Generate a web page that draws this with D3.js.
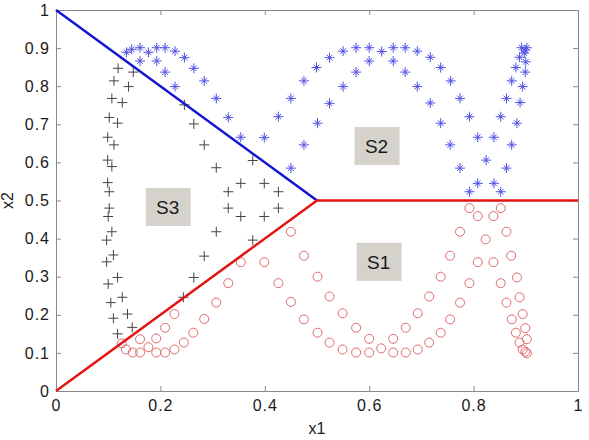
<!DOCTYPE html>
<html>
<head>
<meta charset="utf-8" />
<title>x1 x2 regions</title>
<script src="https://cdn.jsdelivr.net/npm/d3@7"></script>
<style>
  body { margin: 0; background: #fff; }
  text { font-family: "Liberation Sans", Arial, sans-serif; fill: #1a1a1a; }
</style>
</head>
<body>
<div id="chart"></div>
<script>
// points: [x1, x2]
var plusPts = [
  [0.119,0.847],[0.148,0.837],[0.111,0.814],[0.139,0.799],[0.107,0.768],[0.127,0.757],
  [0.102,0.718],[0.118,0.703],[0.099,0.666],[0.111,0.646],[0.099,0.606],[0.107,0.589],
  [0.099,0.547],[0.102,0.523],[0.102,0.480],[0.100,0.458],[0.107,0.418],[0.097,0.396],
  [0.110,0.357],[0.097,0.339],[0.118,0.298],[0.100,0.281],[0.127,0.246],[0.105,0.232],
  [0.137,0.202],[0.110,0.191],[0.146,0.167],[0.118,0.150],
  [0.246,0.751],[0.264,0.701],[0.284,0.646],[0.307,0.586],[0.330,0.523],[0.354,0.545],
  [0.377,0.605],[0.399,0.545],[0.426,0.523],[0.426,0.480],[0.330,0.480],[0.354,0.458],
  [0.399,0.458],[0.307,0.418],[0.377,0.396],[0.284,0.354],[0.264,0.298],[0.244,0.246]
];
var starPts = [
  [0.135,0.889],[0.145,0.897],[0.161,0.901],[0.177,0.889],[0.193,0.901],[0.209,0.901],
  [0.228,0.892],[0.246,0.875],[0.264,0.847],[0.284,0.814],[0.307,0.768],[0.330,0.718],
  [0.354,0.666],[0.161,0.866],[0.193,0.866],[0.209,0.837],[0.228,0.799],
  [0.399,0.665],[0.426,0.720],[0.450,0.768],[0.475,0.814],[0.499,0.849],[0.524,0.875],
  [0.550,0.892],[0.575,0.901],[0.600,0.901],[0.624,0.891],[0.646,0.901],[0.669,0.901],
  [0.692,0.892],[0.717,0.876],[0.737,0.849],[0.756,0.814],[0.774,0.768],[0.792,0.720],
  [0.808,0.666],[0.824,0.606],[0.839,0.545],[0.852,0.523],
  [0.450,0.585],[0.475,0.646],[0.501,0.703],[0.524,0.755],[0.550,0.799],[0.575,0.837],
  [0.600,0.866],[0.646,0.866],[0.669,0.837],[0.692,0.799],[0.717,0.756],[0.737,0.703],
  [0.755,0.646],[0.774,0.585],[0.792,0.523],[0.808,0.545],
  [0.839,0.666],[0.863,0.585],[0.873,0.646],[0.883,0.703],[0.889,0.757],[0.894,0.799],
  [0.899,0.837],[0.900,0.864],[0.899,0.895],[0.892,0.901],[0.902,0.901],[0.881,0.849],
  [0.873,0.814],[0.863,0.768],[0.852,0.720],[0.888,0.876],[0.897,0.887]
];
var circlePts = [
  [0.126,0.125],[0.134,0.109],[0.147,0.101],[0.161,0.101],[0.161,0.136],[0.177,0.115],
  [0.192,0.101],[0.192,0.138],[0.209,0.101],[0.209,0.166],[0.227,0.202],[0.227,0.109],
  [0.245,0.127],[0.263,0.153],[0.284,0.189],[0.307,0.232],[0.330,0.283],[0.354,0.338],
  [0.399,0.338],[0.426,0.283],[0.450,0.418],[0.475,0.355],[0.501,0.300],[0.524,0.248],
  [0.549,0.204],[0.575,0.166],[0.600,0.137],[0.623,0.112],[0.646,0.137],[0.670,0.166],
  [0.693,0.204],[0.715,0.248],[0.737,0.300],[0.755,0.355],[0.774,0.418],[0.792,0.480],
  [0.450,0.234],[0.475,0.188],[0.501,0.153],[0.524,0.127],[0.549,0.109],[0.575,0.101],
  [0.600,0.101],[0.646,0.101],[0.670,0.101],[0.693,0.109],[0.715,0.127],[0.737,0.153],
  [0.755,0.188],[0.774,0.232],[0.792,0.283],[0.808,0.338],[0.823,0.398],[0.808,0.459],
  [0.838,0.459],[0.852,0.480],[0.838,0.338],[0.852,0.283],[0.863,0.418],[0.872,0.355],
  [0.883,0.298],[0.863,0.232],[0.888,0.246],[0.873,0.188],[0.894,0.202],[0.881,0.153],
  [0.899,0.165],[0.888,0.127],[0.902,0.136],[0.894,0.109],[0.899,0.103],[0.902,0.099]
];
// boundary lines
var blueLine = [[0, 1], [0.5, 0.5]];
var redLine = [[0, 0], [0.5, 0.5], [1, 0.5]];
// region labels: [text, x1 centre, x2 centre]
var regionLabels = [["S1", 0.618, 0.339], ["S2", 0.614, 0.643], ["S3", 0.214, 0.483]];
var xTicks = [0, 0.2, 0.4, 0.6, 0.8, 1];
var yTicks = [0, 0.1, 0.2, 0.3, 0.4, 0.5, 0.6, 0.7, 0.8, 0.9, 1];

var W = 589, H = 440;
var margin = {top: 10, right: 11, bottom: 49, left: 56};
var width = W - margin.left - margin.right,
    height = H - margin.top - margin.bottom;

var x = d3.scaleLinear().domain([0, 1]).range([0, width]);
var y = d3.scaleLinear().domain([0, 1]).range([height, 0]);

var svg = d3.select("#chart").append("svg")
    .attr("width", W)
    .attr("height", H)
  .append("g")
    .attr("transform", "translate(" + margin.left + "," + margin.top + ")");

var fmt = function (d) { return d === 0 || d === 1 ? String(d) : d3.format(".1f")(d); };

function styleAxis(g) {
  g.select(".domain").attr("stroke", "#8a8a8a");
  g.selectAll(".tick line").attr("stroke", "#8a8a8a");
  g.selectAll("text").style("font-size", "16px").attr("fill", "#1a1a1a")
    .style("letter-spacing", "1px");
}

// bottom and left axes, ticks pointing inward (MATLAB style)
svg.append("g").attr("transform", "translate(0," + height + ")")
  .call(d3.axisBottom(x).tickValues(xTicks).tickFormat(fmt).tickSizeInner(-5).tickSizeOuter(0).tickPadding(9))
  .call(styleAxis);
svg.append("g")
  .call(d3.axisLeft(y).tickValues(yTicks).tickFormat(fmt).tickSizeInner(-5).tickSizeOuter(0).tickPadding(6))
  .call(styleAxis);
// top and right, ticks only
svg.append("g")
  .call(d3.axisTop(x).tickValues(xTicks).tickFormat("").tickSizeInner(-5).tickSizeOuter(0))
  .call(styleAxis);
svg.append("g").attr("transform", "translate(" + width + ",0)")
  .call(d3.axisRight(y).tickValues(yTicks).tickFormat("").tickSizeInner(-5).tickSizeOuter(0))
  .call(styleAxis);

svg.append("text")
    .attr("x", x(0.5)).attr("y", height + 43)
    .attr("text-anchor", "middle")
    .style("font-size", "16px")
    .text("x1");
svg.append("text")
    .attr("transform", "translate(" + (-43) + "," + y(0.5) + ") rotate(-90)")
    .attr("text-anchor", "middle")
    .style("font-size", "16px")
    .text("x2");

// markers
var plusPath = function (d) {
  var cx = x(d[0]), cy = y(d[1]), r = 5;
  return "M" + (cx - r) + "," + cy + "H" + (cx + r) + "M" + cx + "," + (cy - r) + "V" + (cy + r);
};
var starPath = function (d) {
  var cx = x(d[0]), cy = y(d[1]), r = 5, q = 2.8;
  return "M" + (cx - r) + "," + cy + "H" + (cx + r) + "M" + cx + "," + (cy - r) + "V" + (cy + r) +
    "M" + (cx - q) + "," + (cy - q) + "L" + (cx + q) + "," + (cy + q) +
    "M" + (cx - q) + "," + (cy + q) + "L" + (cx + q) + "," + (cy - q);
};

svg.append("g").selectAll("path")
    .data(plusPts)
  .enter().append("path")
    .attr("d", plusPath)
    .attr("stroke", "#444")
    .attr("stroke-width", 1)
    .attr("fill", "none");

svg.append("g").selectAll("path")
    .data(starPts)
  .enter().append("path")
    .attr("d", starPath)
    .attr("stroke", "#5050e6")
    .attr("stroke-width", 1)
    .attr("fill", "none");

svg.append("g").selectAll("circle")
    .data(circlePts)
  .enter().append("circle")
    .attr("cx", function (d) { return x(d[0]); })
    .attr("cy", function (d) { return y(d[1]); })
    .attr("r", 4.5)
    .attr("stroke", "#e06a6a")
    .attr("stroke-width", 1)
    .attr("fill", "none");

var line = d3.line().x(function (d) { return x(d[0]); }).y(function (d) { return y(d[1]); });
svg.append("path").datum(blueLine).attr("d", line)
    .attr("fill", "none").attr("stroke", "#1414d2").attr("stroke-width", 2.5);
svg.append("path").datum(redLine).attr("d", line)
    .attr("fill", "none").attr("stroke", "#e31414").attr("stroke-width", 2.5);

// region label boxes
var lab = svg.append("g").selectAll("g")
    .data(regionLabels)
  .enter().append("g")
    .attr("transform", function (d) { return "translate(" + x(d[1]) + "," + y(d[2]) + ")"; });
lab.append("rect")
    .attr("x", -22).attr("y", -19).attr("width", 45).attr("height", 38)
    .attr("fill", "#d5d2cc");
lab.append("text")
    .attr("text-anchor", "middle").attr("dy", "0.36em")
    .style("font-size", "19px")
    .text(function (d) { return d[0]; });
</script>
</body>
</html>
